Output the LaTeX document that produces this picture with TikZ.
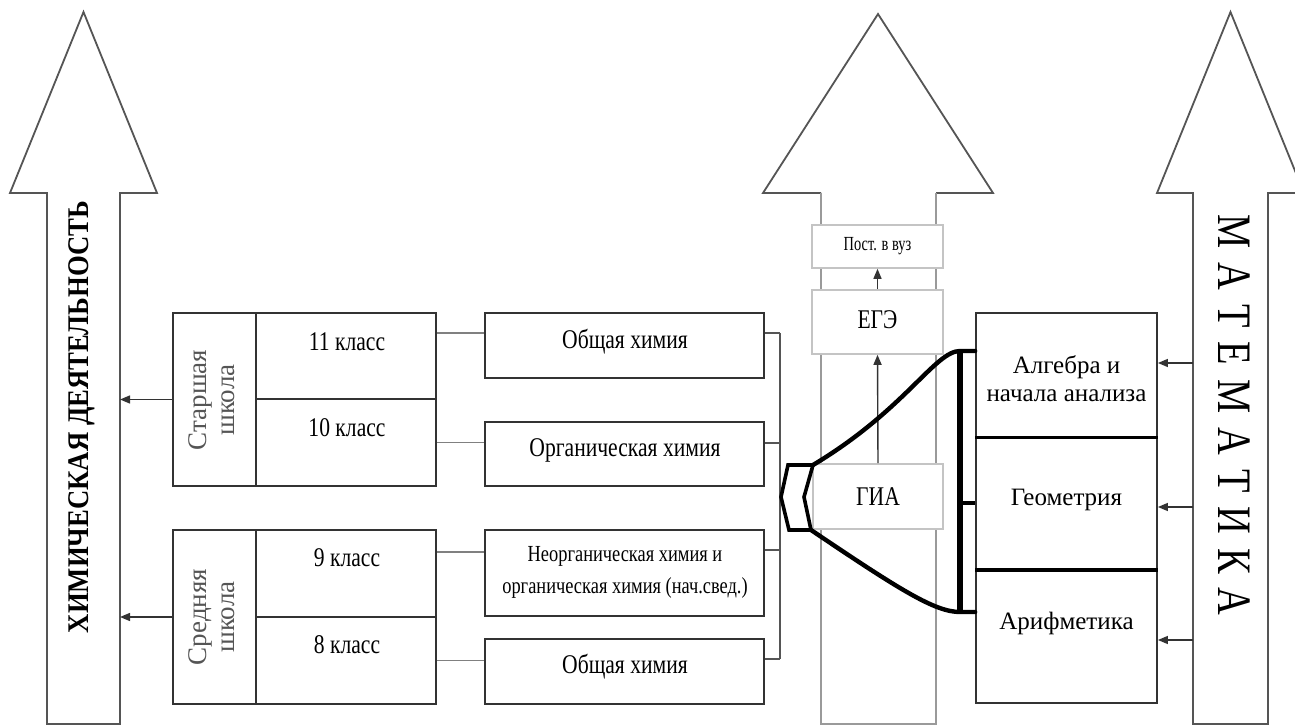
\documentclass[tikz,border=0pt]{standalone}
\usepackage{fontspec}
\setmainfont{Liberation Serif}
\usepackage{graphicx}
\usetikzlibrary{arrows.meta,calc}

% horizontally condensed text
\newcommand\cnd[2][0.8]{\scalebox{#1}[1]{#2}}
\newcommand\lsp{\hspace{8.75pt}}

\definecolor{edge}{HTML}{333333}
\definecolor{outline}{HTML}{555555}
\definecolor{lightshaft}{HTML}{9A9A9A}
\definecolor{wire}{HTML}{808080}
\definecolor{bus}{HTML}{555555}
\definecolor{pale}{HTML}{C4C4C4}
\definecolor{greytext}{HTML}{555555}

\begin{document}
\begin{tikzpicture}[x=0.5pt,y=-0.5pt,
  bigarrow/.style={draw=outline, line width=0.9pt, fill=white, line join=miter},
  box/.style={draw=edge, line width=1pt, fill=white, inner sep=0pt},
  palebox/.style={draw=pale, line width=0.8pt, fill=white, inner sep=0pt},
  mathbox/.style={draw=edge, line width=0.9pt, fill=white, inner sep=0pt, minimum width=90.5pt},
  lbl/.style={inner sep=0pt, font=\fontsize{13.5}{16}\selectfont},
  smalllbl/.style={inner sep=0pt, font=\fontsize{11.5}{16}\selectfont},
  mlbl/.style={inner sep=0pt, font=\fontsize{12.5}{14}\selectfont, align=center},
  glbl/.style={inner sep=0pt, text=greytext, rotate=90, font=\fontsize{13.5}{14}\selectfont},
  conn/.style={draw=wire, line width=0.9pt},
  busline/.style={draw=bus, line width=0.9pt},
  arr/.style={draw=edge, line width=0.7pt, -{Triangle[length=5pt,width=4pt]}},
  thick curve/.style={line width=2.2pt, line cap=round, line join=round},
]
\useasboundingbox (0,0) rectangle (1295,726);
\fill[white] (0,0) rectangle (1295,726);
\clip (0,0) rectangle (1295,726);

% ---- the three big upward arrows ----
\draw[bigarrow] (47,724) -- (47,193) -- (10,193) -- (83.5,12) -- (157,193)
  -- (120,193) -- (120,724) -- cycle;
\fill[white] (821,724) -- (821,193) -- (763,193) -- (878,14) -- (993,193)
  -- (936,193) -- (936,724) -- cycle;
\draw[draw=outline, line width=0.9pt, line join=miter]
  (821,193) -- (763,193) -- (878,14) -- (993,193) -- (936,193);
\draw[draw=lightshaft, line width=0.9pt]
  (821,193) -- (821,724) -- (936,724) -- (936,193);
\draw[bigarrow] (1193,724) -- (1193,193) -- (1157,193) -- (1230.5,12) -- (1304,193)
  -- (1268,193) -- (1268,724) -- cycle;

\node[rotate=90, inner sep=0pt, font=\bfseries\fontsize{15}{18}\selectfont] (chem)
  at (82,417) {\cnd[0.89]{ХИМИЧЕСКАЯ ДЕЯТЕЛЬНОСТЬ}};
\node[rotate=-90, inner sep=0pt, font=\fontsize{24}{28}\selectfont] (maths)
  at (1234,415) {\cnd{М\lsp А\lsp Т\lsp Е\lsp М\lsp А\lsp Т\lsp И\lsp К\lsp А}};

\coordinate (lsh) at (120,0);
\coordinate (rsh) at (1193,0);

% ---- school stages and grades ----
\node[box, minimum width=41.5pt, minimum height=86.5pt] (g1) at (214.5,399.5) {};
\node[box, minimum width=90pt, minimum height=43pt] (c11) at (346,356) {};
\node[box, minimum width=90pt, minimum height=43.5pt] (c10) at (346,442.5) {};
\node[box, minimum width=41.5pt, minimum height=87pt] (g2) at (214.5,617) {};
\node[box, minimum width=90pt, minimum height=43.5pt] (c9) at (346,573.5) {};
\node[box, minimum width=90pt, minimum height=43.5pt] (c8) at (346,660.5) {};

\node[glbl] (tg1) at (215,400) {\begin{tabular}{@{}c@{}}Старшая\\школа\end{tabular}};
\node[glbl] (tg2) at (215,617) {\begin{tabular}{@{}c@{}}Средняя\\школа\end{tabular}};
\node[lbl] (t11) at (347,342) {\cnd{11 класс}};
\node[lbl] (t10) at (347,428) {\cnd{10 класс}};
\node[lbl] (t9) at (347,558) {\cnd{9 класс}};
\node[lbl] (t8) at (347,645) {\cnd{8 класс}};

% ---- chemistry courses ----
\node[box, minimum width=139.5pt, minimum height=32.5pt] (s1) at (624.5,345.5) {};
\node[box, minimum width=139.5pt, minimum height=32pt] (s2) at (624.5,454) {};
\node[box, minimum width=139.5pt, minimum height=43pt] (s3) at (624.5,573) {};
\node[box, minimum width=139.5pt, minimum height=32.5pt] (s4) at (624.5,671.5) {};

\node[lbl] (ts1) at (625,342) {\cnd{Общая химия}};
\node[lbl] (ts2) at (625,450) {\cnd{Органическая химия}};
\node[smalllbl] (ts3) at (625,571) {\cnd{\begin{tabular}{@{}c@{}}Неорганическая химия и\\органическая химия (нач.свед.)\end{tabular}}};
\node[lbl] (ts4) at (625,667) {\cnd{Общая химия}};

% grade -> course links
\path ([yshift=11.5pt]c11.east) coordinate (p11);
\path ([yshift=10.75pt]c9.east) coordinate (p9);
\draw[conn] (p11) -- (p11 -| s1.west);
\draw[conn] (c10.east) -- (c10.east -| s2.west);
\draw[conn] (p9) -- (p9 -| s3.west);
\draw[conn] (c8.east) -- (c8.east -| s4.west);

% course -> common bus
\coordinate (bt) at (780,333);
\coordinate (bb) at (780,659);
\path ([yshift=6.25pt]s1.east) coordinate (q1);
\path ([yshift=5.5pt]s2.east) coordinate (q2);
\path ([yshift=11.5pt]s3.east) coordinate (q3);
\path ([yshift=6.25pt]s4.east) coordinate (q4);
\draw[busline] (q1) -- (q1 -| bt);
\draw[busline] (q2) -- (q2 -| bt);
\draw[busline] (q3) -- (q3 -| bt);
\draw[busline] (q4) -- (q4 -| bt);
\draw[busline] (bt) -- (bb);

% stages -> chemical activity
\draw[arr] (g1.west) -- (g1.west -| lsh);
\draw[arr] (g2.west) -- (g2.west -| lsh);

% ---- exams ----
\node[palebox, minimum width=65.5pt, minimum height=21.5pt] (post) at (877.5,246.5)
  {\fontsize{10}{12}\selectfont\cnd[0.72]{Пост. в вуз}};
\node[palebox, minimum width=65.5pt, minimum height=32pt] (ege) at (877.5,322) {};
\node[lbl] (tege) at (877.5,320) {\cnd{ЕГЭ}};
\node[palebox, minimum width=65pt, minimum height=32.5pt] (gia) at (878,496.5) {};
\node[lbl] (tgia) at (878,497) {\cnd{ГИА}};
\draw[arr] (gia.north) -- (ege.south);
\draw[arr] (ege.north) -- (post.south);

% ---- mathematics ----
\node[mathbox, minimum height=62pt] (m1) at (1066.5,375) {};
\node[mathbox, minimum height=66pt] (m2) at (1066.5,503) {};
\node[mathbox, minimum height=67pt] (m3) at (1066.5,636) {};
\draw[line width=1.6pt] (m1.south west) -- (m1.south east);
\draw[line width=1.6pt] (m2.south west) -- (m2.south east);
\node[mlbl] (tm1) at (1066.5,379) {Алгебра и\\начала анализа};
\node[mlbl] (tm2) at (1066.5,500) {Геометрия};
\node[mlbl] (tm3) at (1066.5,623) {Арифметика};

\path ([yshift=6pt]m1.east) coordinate (r1);
\path ([yshift=-2pt]m2.east) coordinate (r2);
\path ([yshift=-2pt]m3.east) coordinate (r3);
\draw[arr] (r1 -| rsh) -- (r1);
\draw[arr] (r2 -| rsh) -- (r2);
\draw[arr] (r3 -| rsh) -- (r3);

% ---- funnel joining chemistry courses with mathematics ----
\coordinate (h1) at (788,465);
\coordinate (h2) at (813,465);
\coordinate (h3) at (804,497);
\coordinate (h4) at (811,530);
\coordinate (h5) at (789,530);
\coordinate (h6) at (781,497);
\draw[line width=1.8pt, line join=miter] (h1) -- (h2) -- (h3) -- (h4) -- (h5) -- (h6) -- cycle;

\coordinate (bar1) at (960,351);
\coordinate (bar2) at (960,612);
\path ([yshift=12pt]m1.west) coordinate (e1);
\path ([yshift=12pt]m3.west) coordinate (e3);
\draw[thick curve] (h2) .. controls (905,410) and (935,351) .. (bar1) -- (e1);
\draw[thick curve] (h4) .. controls (900,590) and (935,612) .. (bar2) -- (e3);
\draw[line width=2.6pt] (bar1) -- (bar2);
\draw[line width=1.6pt] (m2.west -| bar1) -- (m2.west);
\end{tikzpicture}
\end{document}
